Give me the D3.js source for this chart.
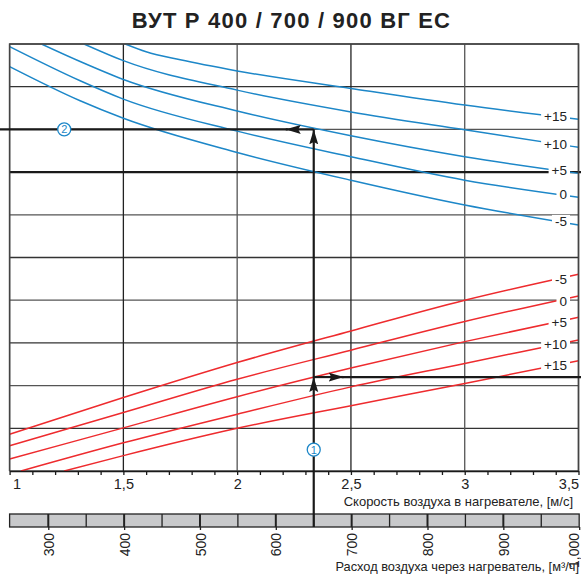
<!DOCTYPE html>
<html>
<head>
<meta charset="utf-8">
<script src="https://cdn.jsdelivr.net/npm/d3@7"></script>
<style>
  body { margin: 0; background: #fff; }
  text { font-family: "Liberation Sans", Arial, sans-serif; }
</style>
</head>
<body>
<div id="chart"></div>
<script>
// speed axis (m/s) and flow axis (m3/h)
const speedTicks = [1, 1.5, 2, 2.5, 3, 3.5];
const speedTickLabels = ['1', '1,5', '2', '2,5', '3', '3,5'];
const flowTicks = [300, 400, 500, 600, 700, 800, 900, 1000];
const flowSteps = [300, 350, 400, 450, 500, 550, 600, 650, 700, 750, 800, 850, 900, 950];
const flowAtSpeed = [300, 1000];
const speedAtFlow = [1.17, 3.503];
const gridLevels = [0, 1, 2, 3, 4, 5, 6, 7, 8, 9, 10];

// blue curves (outlet temp, heating side) : [speed, level]
const blueNames = ['+15', '+10', '+5', '0', '-5'];
const bluePlus15 = [[1.508, 10.0], [1.6, 9.82], [1.75, 9.63], [2.0, 9.37], [2.5, 8.96], [3.0, 8.57], [3.5, 8.24]];
const bluePlus10 = [[1.327, 10.0], [1.5, 9.61], [2.0, 8.92], [2.5, 8.41], [3.0, 7.99], [3.5, 7.58]];
const bluePlus5 = [[1.14, 10.0], [1.31, 9.59], [1.5, 9.17], [2.0, 8.43], [2.5, 7.85], [3.0, 7.36], [3.5, 6.97]];
const blueZero = [[1.0, 9.94], [1.31, 9.14], [1.5, 8.71], [2.0, 7.96], [2.5, 7.36], [3.0, 6.81], [3.5, 6.41]];
const blueMinus5 = [[1.0, 9.47], [1.31, 8.67], [1.5, 8.26], [2.0, 7.46], [2.5, 6.81], [3.0, 6.23], [3.5, 5.76]];

// red curves
const redNames = ['-5', '0', '+5', '+10', '+15'];
const redMinus5 = [[1.0, 0.86], [1.5, 1.72], [2.0, 2.54], [2.5, 3.28], [3.0, 4.0], [3.5, 4.61]];
const redZero = [[1.0, 0.59], [1.5, 1.37], [2.0, 2.15], [2.5, 2.83], [3.0, 3.5], [3.5, 4.1]];
const redPlus5 = [[1.0, 0.28], [1.5, 1.01], [2.0, 1.74], [2.5, 2.41], [3.0, 3.03], [3.5, 3.6]];
const redPlus10 = [[1.05, 0.0], [1.5, 0.66], [2.0, 1.33], [2.5, 1.97], [3.0, 2.52], [3.5, 3.07]];
const redPlus15 = [[1.24, 0.0], [1.5, 0.36], [2.0, 1.0], [2.5, 1.53], [3.0, 2.05], [3.5, 2.58]];

// worked example
const markFlow = 650;
const heatLevel = 8;
const coolLevel = 2.2;
const thickLevel = 7;

const w = 581, h = 576;
const padL = 9.6, padR = 578.5, padT = 44, padB = 471;
const blue = '#1d87c8', red = '#ee2b2e', ink = '#1a1a1a';

const x = d3.scaleLinear().domain([1, 3.5]).range([padL, padR]);
const y = d3.scaleLinear().domain([0, 10]).range([padB, padT]);
const flowX = d3.scaleLinear().domain(flowAtSpeed).range(speedAtFlow.map(x));

const svg = d3.select('#chart').append('svg')
  .attr('width', w).attr('height', h);

const defs = svg.append('defs');
defs.append('clipPath').attr('id', 'plot')
  .append('rect').attr('x', padL).attr('y', padT)
  .attr('width', padR - padL).attr('height', padB - padT);
defs.append('marker')
  .attr('id', 'head')
  .attr('markerUnits', 'userSpaceOnUse')
  .attr('markerWidth', 15).attr('markerHeight', 10)
  .attr('refX', 15).attr('refY', 5)
  .attr('orient', 'auto')
  .append('path').attr('d', 'M0,0.5 L15,5 L0,9.5 L2.5,5 Z').attr('fill', ink);

svg.append('text')
  .attr('x', 291.5).attr('y', 27.5)
  .attr('text-anchor', 'middle')
  .attr('font-size', 22).attr('font-weight', 'bold').attr('fill', '#222')
  .attr('letter-spacing', 1.2)
  .text('ВУТ Р 400 / 700 / 900 ВГ ЕС');

// grid
svg.append('g').selectAll('line').data(gridLevels).enter().append('line')
  .attr('x1', padL).attr('x2', padR)
  .attr('y1', d => y(d)).attr('y2', d => y(d))
  .attr('stroke', (d, i) => i % 2 ? '#333' : '#555')
  .attr('stroke-width', 1.3);
svg.append('g').selectAll('line').data(speedTicks).enter().append('line')
  .attr('x1', d => x(d)).attr('x2', d => x(d))
  .attr('y1', padT).attr('y2', padB)
  .attr('stroke', (d, i) => i % 2 ? '#222' : '#555')
  .attr('stroke-width', 1.3);
svg.append('line')
  .attr('x1', padL).attr('x2', w)
  .attr('y1', y(thickLevel)).attr('y2', y(thickLevel))
  .attr('stroke', ink).attr('stroke-width', 2.2);

// curves
const line = d3.line().x(d => x(d[0])).y(d => y(d[1])).curve(d3.curveMonotoneX);
const blueSet = [bluePlus15, bluePlus10, bluePlus5, blueZero, blueMinus5];
const redSet = [redMinus5, redZero, redPlus5, redPlus10, redPlus15];
const curves = svg.append('g').attr('clip-path', 'url(#plot)');
curves.selectAll('.blue').data(blueSet).enter().append('path')
  .attr('class', 'blue').attr('d', line)
  .attr('fill', 'none').attr('stroke', blue).attr('stroke-width', 1.5);
curves.selectAll('.red').data(redSet).enter().append('path')
  .attr('class', 'red').attr('d', line)
  .attr('fill', 'none').attr('stroke', red).attr('stroke-width', 1.5);

// curve labels at the right end, over a white patch
const labelAt = 3.4;
const levelAt = (pts, v) => {
  const a = pts[pts.length - 2], b = pts[pts.length - 1];
  return a[1] + (b[1] - a[1]) * (v - a[0]) / (b[0] - a[0]);
};
const labels = blueSet.map((p, i) => ({ name: blueNames[i], u: levelAt(p, labelAt) }))
  .concat(redSet.map((p, i) => ({ name: redNames[i], u: levelAt(p, labelAt) })));
const lab = svg.append('g').selectAll('g').data(labels).enter().append('g');
lab.append('text')
  .attr('x', 567).attr('y', d => y(d.u))
  .attr('dy', '0.36em').attr('text-anchor', 'end')
  .attr('font-size', 13.5).attr('fill', '#222')
  .text(d => d.name);
lab.each(function() {
  const t = d3.select(this).select('text');
  const b = t.node().getBBox();
  d3.select(this).insert('rect', 'text')
    .attr('x', b.x - 3).attr('y', b.y + 1)
    .attr('width', b.width + 6).attr('height', b.height - 2)
    .attr('fill', '#fff');
});

// frame
svg.append('path')
  .attr('d', `M${padL},${padB} V${padT} H${padR} V${padB}`)
  .attr('fill', 'none').attr('stroke', '#444').attr('stroke-width', 1.5);

// speed axis
const xAxis = d3.axisBottom(x)
  .tickValues(d3.range(10, 36).map(d => d / 10))
  .tickSizeInner(4).tickSizeOuter(0).tickPadding(4)
  .tickFormat(d => {
    const i = speedTicks.findIndex(s => Math.abs(s - d) < 1e-6);
    return i >= 0 ? speedTickLabels[i] : '';
  });
const gx = svg.append('g').attr('transform', `translate(0,${padB})`).call(xAxis);
gx.select('.domain').attr('stroke', ink).attr('stroke-width', 1.5);
gx.selectAll('.tick line').attr('stroke', ink).attr('stroke-width', 1.3);
gx.selectAll('.tick text').attr('font-size', 14.5).attr('fill', '#222')
  .attr('font-family', '"Liberation Sans", Arial, sans-serif');
gx.selectAll('.tick text').filter(d => d === 1).attr('text-anchor', 'start').attr('x', 3);
gx.selectAll('.tick text').filter(d => d === 3.5).attr('text-anchor', 'end').attr('x', 0);

svg.append('text')
  .attr('x', 573).attr('y', 506)
  .attr('text-anchor', 'end').attr('font-size', 13).attr('fill', '#222')
  .text('Скорость воздуха в нагревателе, [м/с]');

// flow bar
const barTop = 514, barBottom = 527;
svg.append('rect')
  .attr('x', padL).attr('y', barTop)
  .attr('width', flowX(1000) - padL).attr('height', barBottom - barTop)
  .attr('fill', '#c8c9cb').attr('stroke', '#222').attr('stroke-width', 1.3);
svg.append('g').selectAll('line').data(flowSteps).enter().append('line')
  .attr('x1', d => flowX(d)).attr('x2', d => flowX(d))
  .attr('y1', barTop).attr('y2', barBottom)
  .attr('stroke', '#222').attr('stroke-width', d => d % 100 ? 1.3 : 2);

const fAxis = d3.axisBottom(flowX).tickValues(flowTicks)
  .tickSizeInner(3).tickSizeOuter(0).tickPadding(0);
const gf = svg.append('g').attr('transform', `translate(0,${barBottom})`).call(fAxis);
gf.select('.domain').remove();
gf.selectAll('.tick line').attr('stroke', '#222').attr('stroke-width', 1.3);
gf.selectAll('.tick text')
  .attr('transform', 'rotate(-90)')
  .attr('text-anchor', 'end').attr('x', -6).attr('y', 0)
  .attr('dy', d => d === 1000 ? '-0.05em' : '0.36em')
  .attr('font-size', 14).attr('fill', '#222')
  .attr('font-family', '"Liberation Sans", Arial, sans-serif');

svg.append('text')
  .attr('x', 579).attr('y', 571)
  .attr('text-anchor', 'end').attr('font-size', 12.8).attr('fill', '#222')
  .text('Расход воздуха через нагреватель, [м³/ч]');

// worked example arrows
const mx = flowX(markFlow);
const arrows = svg.append('g').attr('stroke', ink).attr('stroke-width', 2.2).attr('fill', 'none');
arrows.append('line').attr('x1', mx).attr('x2', mx).attr('y1', barBottom).attr('y2', y(coolLevel))
  .attr('marker-end', 'url(#head)');
arrows.append('line').attr('x1', mx).attr('x2', mx).attr('y1', y(coolLevel)).attr('y2', y(heatLevel))
  .attr('marker-end', 'url(#head)');
arrows.append('line').attr('x1', mx).attr('x2', mx + 30).attr('y1', y(coolLevel)).attr('y2', y(coolLevel))
  .attr('marker-end', 'url(#head)');
arrows.append('line').attr('x1', mx + 28).attr('x2', w).attr('y1', y(coolLevel)).attr('y2', y(coolLevel));
arrows.append('line').attr('x1', mx).attr('x2', mx - 28).attr('y1', y(heatLevel)).attr('y2', y(heatLevel))
  .attr('marker-end', 'url(#head)');
arrows.append('line').attr('x1', mx - 26).attr('x2', 0).attr('y1', y(heatLevel)).attr('y2', y(heatLevel));

// numbered markers
const badges = [
  { n: '1', cx: mx, cy: y(0.5) },
  { n: '2', cx: x(1.24), cy: y(heatLevel) }
];
const bg = svg.append('g').selectAll('g').data(badges).enter().append('g')
  .attr('transform', d => `translate(${d.cx},${d.cy})`);
bg.append('circle').attr('r', 6.5).attr('fill', '#fff').attr('stroke', blue).attr('stroke-width', 1.3);
bg.append('text').attr('text-anchor', 'middle').attr('dy', '0.36em')
  .attr('font-size', 11).attr('fill', blue).text(d => d.n);
</script>
</body>
</html>
